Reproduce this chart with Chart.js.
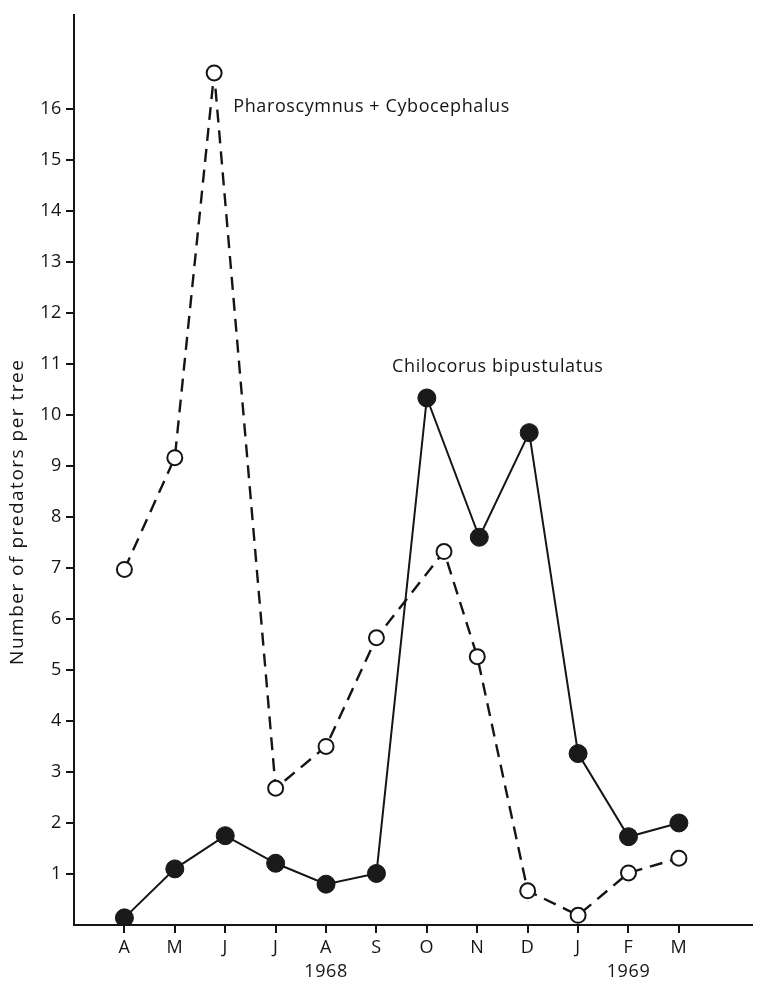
<!DOCTYPE html>
<html>
<head>
<meta charset="utf-8">
<script src="https://cdn.jsdelivr.net/npm/chart.js@4"></script>
<style>
  html, body { margin: 0; padding: 0; background: #fff; }
  canvas { display: block; }
</style>
</head>
<body>
<canvas id="chart" width="762" height="985"></canvas>
<script>
// month ticks, April 1968 .. March 1969
const monthLabels = ['A', 'M', 'J', 'J', 'A', 'S', 'O', 'N', 'D', 'J', 'F', 'M'];
const yearLabels = [{ x: 4, text: '1968' }, { x: 10, text: '1969' }];
const yTicks = [1, 2, 3, 4, 5, 6, 7, 8, 9, 10, 11, 12, 13, 14, 15, 16];

// Pharoscymnus + Cybocephalus (open circles, dashed)
const pharoX = [0, 1, 1.78, 3, 4, 5, 6.34, 7, 8, 9, 10, 11];
const pharoY = [6.97, 9.16, 16.70, 2.68, 3.50, 5.63, 7.32, 5.26, 0.67, 0.19, 1.02, 1.31];

// Chilocorus bipustulatus (filled circles, solid)
const chiloX = [0, 1, 2, 3, 4, 5, 6, 7.04, 8.03, 9, 10, 11];
const chiloY = [0.14, 1.10, 1.75, 1.21, 0.80, 1.01, 10.33, 7.60, 9.65, 3.36, 1.73, 2.00];

const ink = '#151515';
const fontFamily = '"Open Sans", Lato, sans-serif';

// the old typeface is loosely spaced
const spacing = {
  id: 'spacing',
  beforeDraw(chart) { chart.ctx.letterSpacing = '0.6px'; }
};

const extraText = {
  id: 'extraText',
  afterDatasetsDraw(chart) {
    const { ctx, scales: { x, y } } = chart;
    ctx.save();
    ctx.fillStyle = ink;
    ctx.font = '18px ' + fontFamily;
    ctx.textBaseline = 'middle';
    ctx.textAlign = 'left';
    ctx.fillText('Pharoscymnus + Cybocephalus', x.getPixelForValue(2.16), y.getPixelForValue(16.04));
    ctx.fillText('Chilocorus bipustulatus', x.getPixelForValue(5.31), y.getPixelForValue(10.94));
    // year under the month ticks
    ctx.textAlign = 'center';
    yearLabels.forEach(l => {
      ctx.fillText(l.text, x.getPixelForValue(l.x), chart.chartArea.bottom + 47);
    });
    // y axis title, sits a bit below the middle of the axis
    ctx.translate(18, y.getPixelForValue(8.1));
    ctx.rotate(-Math.PI / 2);
    ctx.letterSpacing = '1.5px';
    ctx.font = '19px ' + fontFamily;
    ctx.fillText('Number of predators per tree', 0, 0);
    ctx.restore();
  }
};

new Chart(document.getElementById('chart'), {
  type: 'line',
  data: {
    datasets: [
      {
        label: 'Chilocorus bipustulatus',
        data: chiloX.map((v, i) => ({ x: v, y: chiloY[i] })),
        borderColor: ink,
        borderWidth: 2,
        pointRadius: 9,
        pointBackgroundColor: '#1a1a1a',
        pointBorderColor: ink,
        pointBorderWidth: 1,
        tension: 0
      },
      {
        label: 'Pharoscymnus + Cybocephalus',
        data: pharoX.map((v, i) => ({ x: v, y: pharoY[i] })),
        borderColor: ink,
        borderWidth: 2.4,
        borderDash: [13, 8],
        pointRadius: 7.5,
        pointBackgroundColor: '#fff',
        pointBorderColor: ink,
        pointBorderWidth: 2,
        tension: 0
      }
    ]
  },
  options: {
    responsive: false,
    animation: false,
    devicePixelRatio: 1,
    layout: { padding: { top: 10, right: 2, left: 0, bottom: 0 } },
    plugins: {
      legend: { display: false },
      tooltip: { enabled: false }
    },
    scales: {
      x: {
        type: 'linear',
        min: -1,
        max: 12.45,
        border: { color: ink, width: 2 },
        grid: { drawOnChartArea: false, drawTicks: true, tickLength: 8, color: ink, lineWidth: 2 },
        ticks: {
          autoSkip: false,
          maxRotation: 0,
          padding: 4,
          color: ink,
          font: { family: fontFamily, size: 18 },
          callback: v => monthLabels[v]
        },
        afterBuildTicks: s => { s.ticks = monthLabels.map((_, i) => ({ value: i })); },
        afterFit: s => { s.height = 60; }
      },
      y: {
        min: 0,
        max: 17.84,
        border: { color: ink, width: 2 },
        grid: { drawOnChartArea: false, drawTicks: true, tickLength: 8, color: ink, lineWidth: 2 },
        ticks: {
          padding: 4,
          color: ink,
          font: { family: fontFamily, size: 18 }
        },
        afterBuildTicks: s => { s.ticks = yTicks.map(v => ({ value: v })); },
        afterFit: s => { s.width = 74; }
      }
    }
  },
  plugins: [spacing, extraText]
});
</script>
</body>
</html>
